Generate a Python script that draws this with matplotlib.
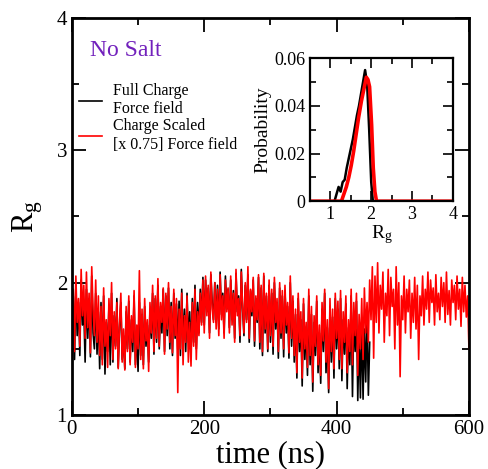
import numpy as np
import matplotlib.pyplot as plt
from matplotlib.ticker import MultipleLocator

plt.rcParams['font.family'] = ['Liberation Serif', 'DejaVu Serif']
plt.rcParams['mathtext.fontset'] = 'custom'
plt.rcParams['mathtext.rm'] = 'Liberation Serif'
plt.rcParams['mathtext.it'] = 'Liberation Serif'

# Rg time series (one value every 2 ns)
rg_full = [
    1.55, 1.90, 1.42, 1.98, 1.60, 1.85, 1.45, 2.02, 1.68, 1.80,
    1.40, 1.95, 1.58, 1.88, 1.44, 2.05, 1.62, 1.50, 1.92, 1.46,
    1.78, 1.35, 1.85, 1.42, 1.90, 1.31, 1.70, 1.48, 1.82, 1.38,
    1.92, 1.40, 1.75, 1.52, 1.88, 1.36, 1.66, 1.85, 1.42, 1.60,
    1.35, 1.78, 1.50, 1.86, 1.40, 1.72, 1.48, 1.90, 1.38, 1.62,
    1.33, 1.85, 1.45, 1.76, 1.38, 1.82, 1.52, 1.68, 1.40, 1.80,
    1.58, 1.92, 1.46, 1.88, 1.55, 1.98, 1.50, 1.82, 1.62, 1.95,
    1.48, 1.90, 1.60, 1.96, 1.50, 1.85, 1.45, 1.92, 1.58, 1.84,
    1.50, 1.86, 1.45, 1.95, 1.52, 1.80, 1.48, 1.92, 1.55, 1.78,
    1.46, 1.88, 1.55, 1.98, 1.50, 1.85, 1.62, 1.95, 1.70, 2.04,
    1.68, 2.02, 1.78, 1.96, 1.62, 2.06, 1.85, 1.72, 2.00, 1.70,
    1.98, 1.65, 2.08, 1.76, 1.92, 1.62, 2.05, 1.80, 1.95, 1.66,
    2.02, 1.72, 1.94, 1.58, 2.07, 1.78, 1.90, 1.55, 2.10, 1.80,
    1.60, 1.98, 1.72, 2.06, 1.55, 1.94, 1.75, 2.02, 1.52, 1.88,
    1.70, 2.04, 1.50, 1.96, 1.45, 2.05, 1.62, 1.90, 1.48, 1.98,
    1.55, 1.92, 1.46, 2.00, 1.65, 1.85, 1.43, 1.96, 1.58, 1.90,
    1.44, 1.94, 1.62, 1.82, 1.43, 2.00, 1.52, 1.86, 1.40, 1.76,
    1.28, 1.88, 1.48, 1.72, 1.22, 1.84, 1.42, 1.66, 1.30, 1.90,
    1.38, 1.76, 1.18, 1.70, 1.45, 1.86, 1.32, 1.62, 1.24, 1.80,
    1.48, 1.92, 1.32, 1.66, 1.17, 1.82, 1.40, 1.74, 1.28, 1.88,
    1.50, 1.80, 1.35, 1.88, 1.26, 1.72, 1.46, 1.84, 1.20, 1.66,
    1.38, 1.90, 1.14, 1.78, 1.48, 1.86, 1.11, 1.62, 1.13, 1.70,
    1.12, 1.65, 1.25, 1.80, 1.15, 1.55,
]
rg_scaled = [
    1.62, 1.95, 1.48, 2.05, 1.70, 1.88, 1.52, 2.10, 1.75, 1.98,
    1.58, 2.08, 1.66, 1.92, 1.47, 2.12, 1.80, 1.60, 2.02, 1.55,
    1.90, 1.45, 1.82, 1.38, 1.96, 1.52, 1.72, 1.36, 1.88, 1.60,
    2.00, 1.42, 1.78, 1.50, 1.85, 1.35, 1.70, 1.92, 1.40, 1.65,
    1.34, 1.82, 1.48, 1.90, 1.38, 1.75, 1.55, 1.94, 1.36, 1.68,
    1.50, 2.09, 1.42, 1.80, 1.35, 1.88, 1.56, 1.72, 1.33, 1.85,
    1.62, 1.98, 1.48, 1.90, 1.58, 2.03, 1.52, 1.85, 1.70, 1.96,
    1.46, 1.92, 1.65, 2.00, 1.55, 1.82, 1.47, 1.95, 1.60, 1.88,
    1.17, 1.80, 1.50, 1.92, 1.38, 1.75, 1.55, 1.90, 1.40, 1.70,
    1.37, 1.85, 1.52, 1.95, 1.42, 1.78, 1.60, 1.92, 1.68, 2.02,
    1.62, 2.05, 1.75, 1.98, 1.58, 2.08, 1.80, 1.70, 2.00, 1.65,
    1.95, 1.60, 2.06, 1.72, 1.90, 1.58, 2.02, 1.78, 1.96, 1.62,
    2.05, 1.68, 1.92, 1.55, 2.10, 1.75, 1.88, 1.60, 2.08, 1.82,
    1.62, 2.00, 1.70, 2.12, 1.58, 1.95, 1.78, 2.04, 1.56, 1.90,
    1.72, 2.06, 1.55, 1.98, 1.48, 2.07, 1.65, 1.92, 1.50, 2.02,
    1.60, 1.95, 1.52, 2.04, 1.70, 1.88, 1.48, 2.00, 1.62, 1.94,
    1.50, 1.98, 1.68, 1.85, 1.47, 2.05, 1.58, 1.90, 1.45, 1.80,
    1.32, 1.92, 1.55, 1.78, 1.28, 1.88, 1.50, 1.70, 1.36, 1.95,
    1.45, 1.82, 1.25, 1.75, 1.52, 1.90, 1.38, 1.68, 1.30, 1.85,
    1.56, 1.95, 1.40, 1.72, 1.20, 1.88, 1.48, 1.80, 1.35, 1.92,
    1.58, 1.86, 1.42, 1.94, 1.35, 1.78, 1.55, 1.90, 1.32, 1.72,
    1.48, 1.95, 1.38, 1.85, 1.60, 1.92, 1.30, 1.76, 1.50, 1.88,
    1.42, 1.96, 1.62, 1.85, 1.55, 2.02, 1.72, 2.12, 1.43, 2.05,
    1.70, 2.15, 1.62, 1.98, 1.80, 2.08, 1.55, 1.92, 1.75, 2.10,
    1.60, 2.04, 1.82, 1.95, 1.50, 2.12, 1.68, 2.00, 1.29, 1.90,
    1.72, 2.05, 1.62, 1.95, 1.78, 2.02, 1.58, 1.92, 1.70, 2.04,
    1.65, 1.98, 1.42, 1.90, 1.75, 2.05, 1.68, 1.95, 1.80, 2.08,
    1.70, 2.02, 1.85, 1.96, 1.68, 2.06, 1.78, 1.92, 1.72, 2.04,
    1.82, 2.00, 1.70, 2.08, 1.76, 1.94, 1.68, 2.02, 1.85, 1.98,
    1.72, 2.05, 1.80, 1.95, 1.67, 2.04, 1.78, 1.98, 1.74, 1.90,
    1.50,
]
t_full = np.arange(len(rg_full)) * 2.0
t_scaled = np.arange(len(rg_scaled)) * 2.0

# probability distributions for the inset
hist_x_full = [0.5, 1.10, 1.15, 1.20, 1.25, 1.30, 1.35, 1.40, 1.45, 1.50, 1.55,
               1.60, 1.65, 1.70, 1.75, 1.80, 1.85, 1.90, 1.95, 2.00, 2.04, 4.0]
hist_p_full = [0, 0, 0.003, 0.006, 0.004, 0.008, 0.009, 0.014, 0.018, 0.022, 0.026,
               0.031, 0.036, 0.040, 0.045, 0.050, 0.055, 0.049, 0.030, 0.008, 0, 0]
hist_x_scaled = [0.5, 1.27, 1.33, 1.39, 1.45, 1.51, 1.57, 1.63, 1.69, 1.76,
                 1.82, 1.88, 1.92, 1.96, 2.01, 2.05, 2.09, 2.13, 4.0]
hist_p_scaled = [0, 0, 0.003, 0.006, 0.010, 0.015, 0.021, 0.028, 0.035, 0.042,
                 0.047, 0.052, 0.051, 0.048, 0.032, 0.014, 0.004, 0, 0]

fig = plt.figure(figsize=(4.89, 4.69), dpi=100)
ax = fig.add_axes([0.147, 0.115, 0.812, 0.847])
ax.plot(t_full, rg_full, color='black', lw=1.2)
ax.plot(t_scaled, rg_scaled, color='red', lw=1.2)
ax.set_xlim(0, 600)
ax.set_ylim(1, 4)
ax.xaxis.set_major_locator(MultipleLocator(200))
ax.xaxis.set_minor_locator(MultipleLocator(100))
ax.yaxis.set_major_locator(MultipleLocator(1))
ax.yaxis.set_minor_locator(MultipleLocator(0.5))
ax.tick_params(which='both', direction='in', top=True, right=True, width=1.3, labelsize=15)
ax.tick_params(which='major', length=10)
ax.tick_params(which='minor', length=5)
for s in ax.spines.values():
    s.set_linewidth(2)
ax.set_xlabel('time (ns)', fontsize=22, labelpad=1)
ax.set_ylabel(r'R$_\mathrm{g}$', fontsize=22, labelpad=8)

ax.text(0.045, 0.945, 'No Salt', transform=ax.transAxes, color='#7221BC', fontsize=17, va='top')
ax.legend(['Full Charge\nForce field', 'Charge Scaled\n[x 0.75] Force field'],
          loc='upper left', bbox_to_anchor=(-0.005, 0.86), frameon=False, fontsize=11.5,
          handlelength=1.4, handletextpad=0.7, labelspacing=0.05, borderaxespad=0.2)

ins = fig.add_axes([0.634, 0.571, 0.292, 0.305])
ins.plot(hist_x_full, hist_p_full, color='black', lw=1.8)
ins.plot(hist_x_scaled, hist_p_scaled, color='red', lw=2.6)
ins.set_xlim(0.5, 4)
ins.set_ylim(0, 0.06)
ins.xaxis.set_major_locator(MultipleLocator(1))
ins.xaxis.set_minor_locator(MultipleLocator(0.5))
ins.yaxis.set_major_locator(MultipleLocator(0.02))
ins.yaxis.set_minor_locator(MultipleLocator(0.01))
ins.set_yticks([0, 0.02, 0.04, 0.06], ['0', '0.02', '0.04', '0.06'])
ins.tick_params(which='both', direction='in', top=True, right=True, width=1.2, labelsize=13)
ins.tick_params(which='major', length=7)
ins.tick_params(which='minor', length=4)
for s in ins.spines.values():
    s.set_linewidth(1.6)
ins.set_xlabel(r'R$_\mathrm{g}$', fontsize=14, labelpad=0)
ins.set_ylabel('Probability', fontsize=14, labelpad=2)

fig.savefig('out.png', dpi=100)
